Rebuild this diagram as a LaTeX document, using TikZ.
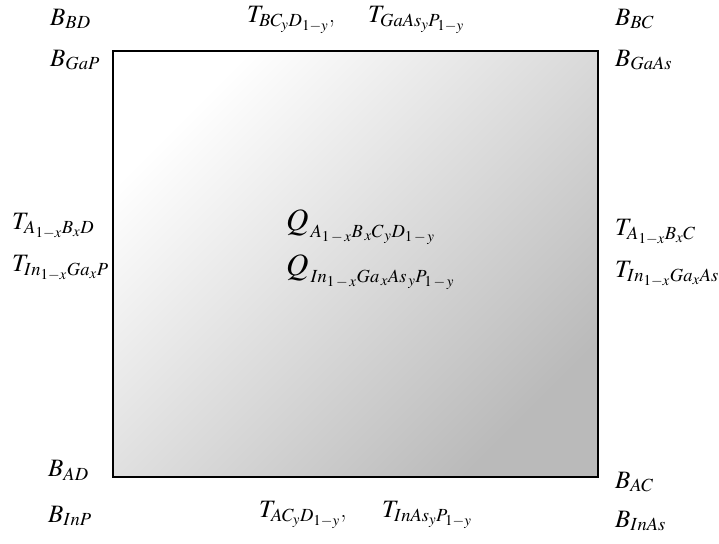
\documentclass[tikz,border=0pt]{standalone}
\usepackage{mathptmx}
\usepackage{tikz}
\usetikzlibrary{positioning, shadings}

\newcommand{\bigQ}{\hbox{\fontsize{31}{36}\selectfont$Q$}}

\begin{document}
\begin{tikzpicture}[
    x=1pt, y=-1pt,
    lbl/.style={anchor=west, inner sep=0pt, font=\fontsize{25}{30}\selectfont},
    quad/.style={rectangle, draw, line width=1.6pt, minimum width=485pt, minimum height=426pt,
        shading=axis, top color=white, bottom color=black!27, shading angle=45}
]
\useasboundingbox (0,0) rectangle (719,543);
\node[quad] (sq) at (355.5,264) {};

% corners
\node[lbl] (bd) at (50,19) {$B_{BD}$};
\node[lbl] (gap) at (50,60) {$B_{GaP}$};
\node[lbl] (bc) at (615,19) {$B_{BC}$};
\node[lbl] (gaas) at (615,60) {$B_{GaAs}$};
\node[lbl] (ad) at (48,470) {$B_{AD}$};
\node[lbl] (inp) at (48,516) {$B_{InP}$};
\node[lbl] (ac) at (615,482) {$B_{AC}$};
\node[lbl] (inas) at (615,521) {$B_{InAs}$};

% sides
\node[lbl] (tt1) at (247,20) {$T_{BC_yD_{1-y}}$,};
\node[lbl] (tt2) at (368,20) {$T_{GaAs_yP_{1-y}}$};
\node[lbl] (tb1) at (259,515) {$T_{AC_yD_{1-y}}$,};
\node[lbl] (tb2) at (382,515) {$T_{InAs_yP_{1-y}}$};
\node[lbl] (tl1) at (12,226) {$T_{A_{1-x}B_xD}$};
\node[lbl] (tl2) at (12,268) {$T_{In_{1-x}Ga_xP}$};
\node[lbl] (tr1) at (615,232) {$T_{A_{1-x}B_xC}$};
\node[lbl] (tr2) at (615,274) {$T_{In_{1-x}Ga_xAs}$};

% centre
\node[lbl] (q1) at (286,227) {$\bigQ_{\,A_{1\,-\,x}B_{\,x}C_{\,y}D_{1\,-\,y}}$};
\node[lbl] (q2) at (286,272) {$\bigQ_{\,In_{1\,-\,x}Ga_{\,x}As_{\,y}P_{1\,-\,y}}$};
\end{tikzpicture}
\end{document}
